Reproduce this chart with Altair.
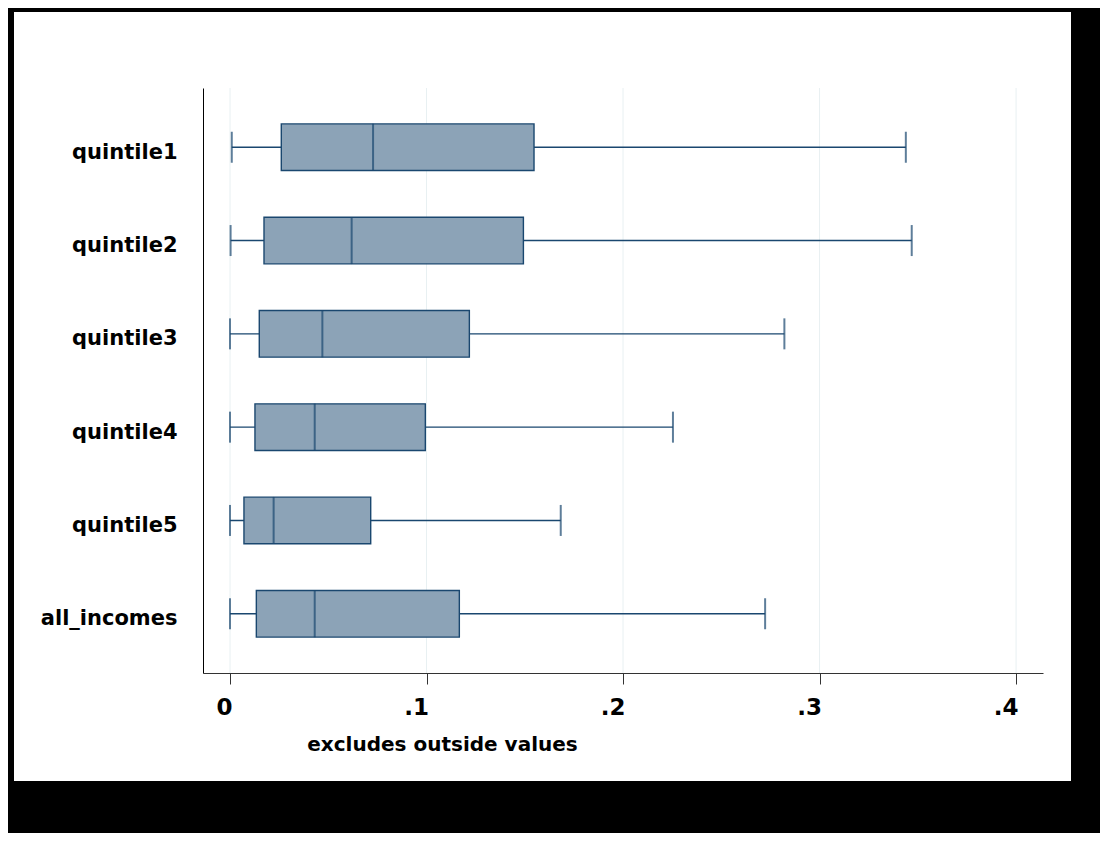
import altair as alt
import pandas as pd

groups = ["quintile1", "quintile2", "quintile3", "quintile4", "quintile5", "all_incomes"]
lower_whisker = [0.0009, 0.0003, 0.0000, 0.0000, 0.0000, 0.0000]
q1 = [0.0261, 0.0173, 0.0149, 0.0127, 0.0071, 0.0134]
median = [0.0728, 0.0619, 0.0470, 0.0431, 0.0222, 0.0431]
q3 = [0.1547, 0.1493, 0.1218, 0.0994, 0.0716, 0.1167]
upper_whisker = [0.3439, 0.3469, 0.2821, 0.2254, 0.1683, 0.2723]
tick_values = [0.0, 0.1, 0.2, 0.3, 0.4]

df = pd.DataFrame({
    "group": groups, "lo": lower_whisker, "q1": q1, "med": median,
    "q3": q3, "hi": upper_whisker,
})
grid_df = pd.DataFrame({"v": tick_values})

W, H = 840, 585
FONT = "DejaVu Sans"
NAVY = "#1A476F"
FILL = "#8CA3B7"

xscale = alt.Scale(domain=[-0.01374, 0.4137], nice=False, zero=False)
yscale = alt.Scale(domain=groups, paddingInner=0.5, paddingOuter=0.385)

xaxis = alt.Axis(
    values=tick_values,
    labelExpr="datum.value == 0 ? '0' : '.' + round(datum.value * 10)",
    grid=False, zindex=1,
    domainColor="#333333", domainWidth=1,
    tickColor="#333333", tickSize=11, tickWidth=1,
    labelFont=FONT, labelFontWeight="bold", labelFontSize=23, labelColor="black",
    labelAlign="right", labelOffset=2, labelBaseline="alphabetic", labelPadding=30,
    title="excludes outside values",
    titleFont=FONT, titleFontWeight="bold", titleFontSize=20, titleColor="black",
    titleX=239, titleY=77, titleAlign="center", titleBaseline="alphabetic",
)
yaxis = alt.Axis(
    grid=False, zindex=1, ticks=False,
    domainColor="black", domainWidth=1,
    labelFont=FONT, labelFontWeight="bold", labelFontSize=21, labelColor="black",
    labelAlign="right", labelBaseline="alphabetic", labelOffset=11.5, labelPadding=26,
    title=None,
)

frame = alt.Chart(pd.DataFrame({"a": [1]})).mark_rect(fill="white", stroke=None).encode(
    x=alt.value(-189), x2=alt.value(868), y=alt.value(-76), y2=alt.value(693)
)

grid = alt.Chart(grid_df).mark_rule(color="#E8F0F2", strokeWidth=1).encode(
    x=alt.X("v:Q", scale=xscale, axis=xaxis)
)

base = alt.Chart(df)
whisk = base.mark_rule(color=NAVY, strokeWidth=1.4).encode(
    x=alt.X("lo:Q", scale=xscale, axis=xaxis),
    x2="hi:Q",
    y=alt.Y("group:N", scale=yscale, axis=yaxis, sort=groups),
)
box = base.mark_bar(fill=FILL, stroke=NAVY, strokeWidth=1.4).encode(
    x=alt.X("q1:Q", scale=xscale),
    x2="q3:Q",
    y=alt.Y("group:N", scale=yscale, sort=groups),
)
med = base.mark_tick(color=NAVY, thickness=2, size=47).encode(
    x=alt.X("med:Q", scale=xscale),
    y=alt.Y("group:N", scale=yscale, sort=groups),
)
cap_lo = base.mark_tick(color=NAVY, thickness=2, size=31).encode(
    x=alt.X("lo:Q", scale=xscale),
    y=alt.Y("group:N", scale=yscale, sort=groups),
)
cap_hi = base.mark_tick(color=NAVY, thickness=2, size=31).encode(
    x=alt.X("hi:Q", scale=xscale),
    y=alt.Y("group:N", scale=yscale, sort=groups),
)

chart = alt.layer(frame, grid, whisk, box, med, cap_lo, cap_hi).properties(
    width=W, height=H,
    background="black",
    autosize=alt.AutoSizeParams(type="none"),
    padding={"left": 195, "top": 80, "right": 57, "bottom": 160},
).configure_view(stroke=None, fill=None)

chart.save("out.html", embed_options={"renderer": "svg", "actions": False})
